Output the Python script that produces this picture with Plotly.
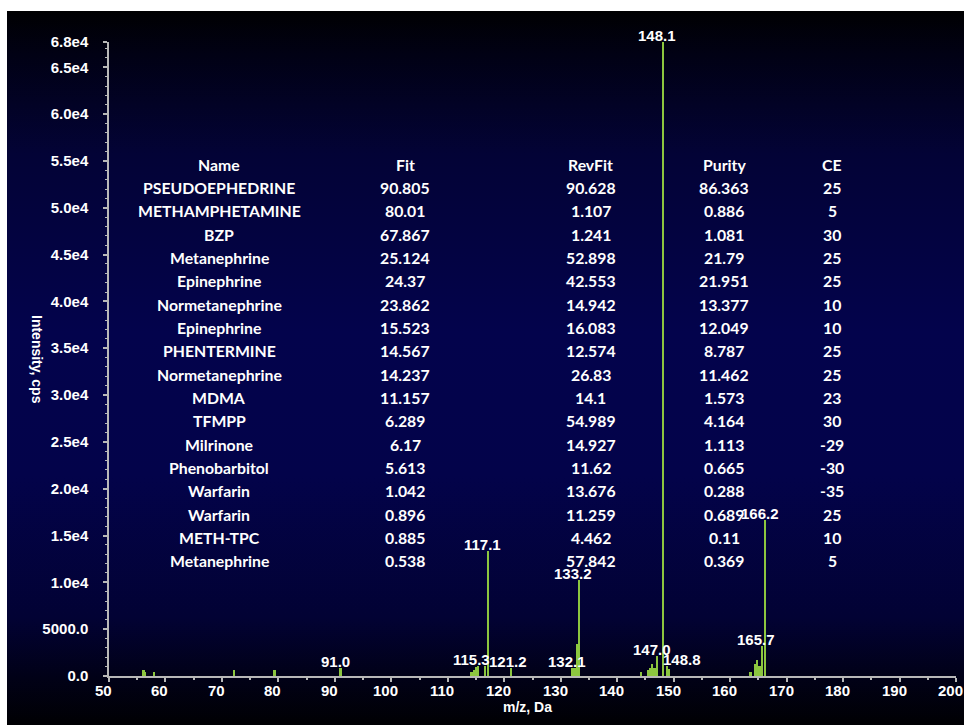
import base64
import plotly.graph_objects as go

# Spectrum peaks: m/z and intensity (cps)
mz = [56.1, 56.4, 58.0, 72.2, 79.3, 91.0,
      114.2, 114.6, 115.0, 115.3, 116.6, 117.1, 121.2,
      132.1, 132.5, 132.9, 133.2,
      144.2, 145.4, 145.8, 146.2, 146.6, 147.0, 148.1, 148.8, 149.2,
      163.6, 164.5, 164.8, 165.2, 165.7, 166.2]
intensity = [640, 450, 400, 640, 640, 820,
             400, 640, 930, 1070, 1070, 13300, 820,
             850, 850, 3400, 10250,
             400, 640, 820, 1250, 890, 2130, 67700, 1070, 710,
             400, 1250, 1700, 1070, 3200, 16650]

# Labelled peaks and horizontal label offsets (px)
label_mz = [91.0, 115.3, 117.1, 121.2, 132.1, 133.2, 147.0, 148.1, 148.8, 165.7, 166.2]
label_shift = [-5, -6, -5, -3, -6, -6, -5, -6, 15, -6, -5]

# Library search hit list
hdr = ["Name", "Fit", "RevFit", "Purity", "CE"]
names = ["PSEUDOEPHEDRINE", "METHAMPHETAMINE", "BZP", "Metanephrine", "Epinephrine",
         "Normetanephrine", "Epinephrine", "PHENTERMINE", "Normetanephrine", "MDMA",
         "TFMPP", "Milrinone", "Phenobarbitol", "Warfarin", "Warfarin", "METH-TPC",
         "Metanephrine"]
fit = ["90.805", "80.01", "67.867", "25.124", "24.37", "23.862", "15.523", "14.567",
       "14.237", "11.157", "6.289", "6.17", "5.613", "1.042", "0.896", "0.885", "0.538"]
revfit = ["90.628", "1.107", "1.241", "52.898", "42.553", "14.942", "16.083", "12.574",
          "26.83", "14.1", "54.989", "14.927", "11.62", "13.676", "11.259", "4.462", "57.842"]
purity = ["86.363", "0.886", "1.081", "21.79", "21.951", "13.377", "12.049", "8.787",
          "11.462", "1.573", "4.164", "1.113", "0.665", "0.288", "0.689", "0.11", "0.369"]
ce = ["25", "5", "30", "25", "25", "10", "10", "25", "25", "23", "30", "-29", "-30",
      "-35", "25", "10", "5"]

x_tickvals = [50, 60, 70, 80, 90, 100, 110, 120, 130, 140, 150, 160, 170, 180, 190, 200]
y_tickvals = [0, 5000, 10000, 15000, 20000, 25000, 30000, 35000, 40000, 45000,
              50000, 55000, 60000, 65000, 67700]
y_ticktext = ["0.0", "5000.0", "1.0e4", "1.5e4", "2.0e4", "2.5e4", "3.0e4", "3.5e4",
              "4.0e4", "4.5e4", "5.0e4", "5.5e4", "6.0e4", "6.5e4", "6.8e4"]

W, H = 967, 725
L, R, T, B = 109, 11, 42, 49
PW, PH = W - L - R, H - T - B

def px_x(p):
    return (p - L) / PW

def px_y(p):
    return (H - B - p) / PH

# Vertical navy gradient backdrop
svg = """<svg xmlns='http://www.w3.org/2000/svg' width='100' height='100' preserveAspectRatio='none'>
<defs><linearGradient id='g' x1='0' y1='0' x2='0' y2='1'>
<stop offset='0' stop-color='#000002'/>
<stop offset='0.06' stop-color='#010114'/>
<stop offset='0.2' stop-color='#030336'/>
<stop offset='0.45' stop-color='#03034c'/>
<stop offset='0.65' stop-color='#03034a'/>
<stop offset='0.85' stop-color='#020234'/>
<stop offset='0.93' stop-color='#010118'/>
<stop offset='1' stop-color='#000003'/>
</linearGradient></defs>
<rect width='100' height='100' fill='url(#g)'/></svg>"""
bg_uri = "data:image/svg+xml;base64," + base64.b64encode(svg.encode()).decode()

fig = go.Figure()
fig.add_trace(go.Bar(x=mz, y=intensity, width=0.4,
                     marker=dict(color="#8cc63f", line=dict(width=0)),
                     hoverinfo="x+y"))

axis_font = dict(family="Liberation Sans, Arial", size=15, color="white", weight="bold")
line_col = "#b8b8b8"

annotations = []
# Peak m/z labels
for m, s in zip(label_mz, label_shift):
    annotations.append(dict(x=m, y=intensity[mz.index(m)], xref="x", yref="y",
                            text=f"{m:.1f}", showarrow=False, yanchor="bottom",
                            xanchor="center", xshift=s, yshift=-4,
                            font=dict(family="Liberation Sans, Arial", size=15,
                                      color="white", weight="bold")))

# m/z tick labels, set slightly left of their ticks
for v in x_tickvals:
    annotations.append(dict(x=v, y=px_y(690), xref="x", yref="paper", text=str(v),
                            showarrow=False, xanchor="center", yanchor="middle",
                            xshift=-5.5, font=axis_font))

# Hit list table
col_px = [219, 405, 590.5, 724, 832]
row0_px, row_step = 164, 23.35
columns = [names, fit, revfit, purity, ce]
tfont = dict(family="Lato", size=15.8, color="white", weight="bold")
for c, (cx, head, vals) in enumerate(zip(col_px, hdr, columns)):
    annotations.append(dict(x=px_x(cx), y=px_y(row0_px), xref="paper", yref="paper",
                            text=head, showarrow=False, xanchor="center",
                            yanchor="middle", font=tfont))
    for i, v in enumerate(vals):
        annotations.append(dict(x=px_x(cx), y=px_y(row0_px + (i + 1) * row_step),
                                xref="paper", yref="paper", text=v, showarrow=False,
                                xanchor="center", yanchor="middle", font=tfont))

# Axis titles
annotations.append(dict(x=px_x(527), y=px_y(707), xref="paper", yref="paper",
                        text="m/z, Da", showarrow=False, xanchor="center",
                        yanchor="middle", font=dict(family="Liberation Sans, Arial",
                                                    size=14, color="white", weight="bold")))
annotations.append(dict(x=px_x(37), y=px_y(359), xref="paper", yref="paper",
                        text="Intensity, cps", showarrow=False, textangle=90,
                        xanchor="center", yanchor="middle",
                        font=dict(family="Liberation Sans, Arial", size=14,
                                  color="white", weight="bold")))

fig.update_layout(
    width=W, height=H,
    margin=dict(l=L, r=R, t=T, b=B, pad=0, autoexpand=False),
    paper_bgcolor="white",
    plot_bgcolor="rgba(0,0,0,0)",
    showlegend=False,
    bargap=0,
    annotations=annotations,
    images=[dict(source=bg_uri, xref="paper", yref="paper",
                 x=px_x(7), y=px_y(11), sizex=(964 - 7) / PW, sizey=(725 - 11) / PH,
                 xanchor="left", yanchor="top", sizing="stretch", layer="below")],
    xaxis=dict(range=[50, 200], tickmode="array", tickvals=x_tickvals,
               showticklabels=False,
               showgrid=False, zeroline=False, showline=True, linecolor=line_col,
               linewidth=1.5, ticks="outside", ticklen=4, tickcolor=line_col,
               tickwidth=1.5, automargin=False,
               minor=dict(tickmode="linear", tick0=55, dtick=10, ticks="outside",
                          ticklen=2, tickcolor=line_col, tickwidth=1.5, showgrid=False)),
    yaxis=dict(range=[0, 67700], tickmode="array", tickvals=y_tickvals,
               ticktext=y_ticktext, showgrid=False, zeroline=False, showline=True,
               linecolor=line_col, linewidth=1.5, ticks="outside", ticklen=4,
               tickcolor=line_col, tickwidth=1.5, tickfont=axis_font,
               ticklabelstandoff=12, ticklabeloverflow="allow", automargin=False,
               minor=dict(tickmode="linear", tick0=0, dtick=1000, ticks="outside",
                          ticklen=2, tickcolor=line_col, tickwidth=1, showgrid=False)),
)

fig.write_html("out.html")
